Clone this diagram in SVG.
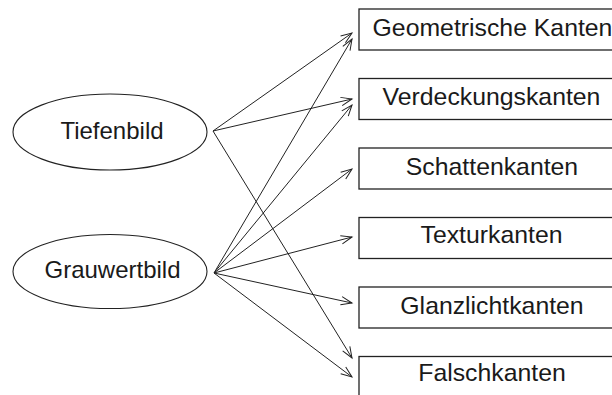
<svg xmlns="http://www.w3.org/2000/svg" width="612" height="395" viewBox="0 0 612 395">
  <style>
    .src { fill: #fff; stroke: #222; stroke-width: 1.1; }
    .box { fill: #fff; stroke: #222; stroke-width: 1.3; }
    .lbl { font-family: "Liberation Sans", Arial, sans-serif; font-size: 24px; fill: #1a1a1a; text-anchor: middle; }
    .box-lbl { font-size: 24.8px; }
    .edge { fill: none; stroke: #222; stroke-width: 1; marker-end: url(#open); }
  </style>
  <defs>
    <marker id="open" markerUnits="userSpaceOnUse" viewBox="-12 -6 14 12" refX="0" refY="0" markerWidth="14" markerHeight="12" orient="auto">
      <path d="M-11,-4.2 L0,0 L-11,4.2" fill="none" stroke="#222" stroke-width="1"/>
    </marker>
  </defs>
  <rect width="612" height="395" fill="#fff"/>

  <!-- source images -->
  <g id="tiefenbild">
    <ellipse class="src" cx="110" cy="132" rx="97" ry="38"/>
    <text class="lbl" x="112" y="138.5">Tiefenbild</text>
  </g>
  <g id="grauwertbild">
    <ellipse class="src" cx="110" cy="271.5" rx="97" ry="37"/>
    <text class="lbl" x="112.5" y="278">Grauwertbild</text>
  </g>

  <!-- edge categories -->
  <g id="geometrische-kanten">
    <rect class="box" x="359" y="9" width="266" height="41"/>
    <text class="lbl box-lbl" x="492.5" y="36">Geometrische Kanten</text>
  </g>
  <g id="verdeckungskanten">
    <rect class="box" x="359" y="78.5" width="266" height="41"/>
    <text class="lbl box-lbl" x="491.5" y="104.5">Verdeckungskanten</text>
  </g>
  <g id="schattenkanten">
    <rect class="box" x="359" y="148" width="266" height="41"/>
    <text class="lbl box-lbl" x="492" y="175">Schattenkanten</text>
  </g>
  <g id="texturkanten">
    <rect class="box" x="359" y="217.5" width="266" height="41"/>
    <text class="lbl box-lbl" x="491.5" y="243">Texturkanten</text>
  </g>
  <g id="glanzlichtkanten">
    <rect class="box" x="359" y="287" width="266" height="41"/>
    <text class="lbl box-lbl" x="492" y="313.5">Glanzlichtkanten</text>
  </g>
  <g id="falschkanten">
    <rect class="box" x="359" y="356.5" width="266" height="41"/>
    <text class="lbl box-lbl" x="492" y="381">Falschkanten</text>
  </g>

  <!-- connectors -->
  <g id="connectors">
    <line class="edge" x1="213" y1="131" x2="352" y2="33"/>
    <line class="edge" x1="213" y1="131" x2="352" y2="99"/>
    <line class="edge" x1="213" y1="131" x2="352" y2="358"/>
    <line class="edge" x1="214" y1="273" x2="352" y2="39"/>
    <line class="edge" x1="214" y1="273" x2="352" y2="105"/>
    <line class="edge" x1="214" y1="273" x2="352" y2="169"/>
    <line class="edge" x1="214" y1="273" x2="352" y2="237"/>
    <line class="edge" x1="214" y1="273" x2="352" y2="303"/>
    <line class="edge" x1="214" y1="273" x2="352" y2="377"/>
  </g>
</svg>
